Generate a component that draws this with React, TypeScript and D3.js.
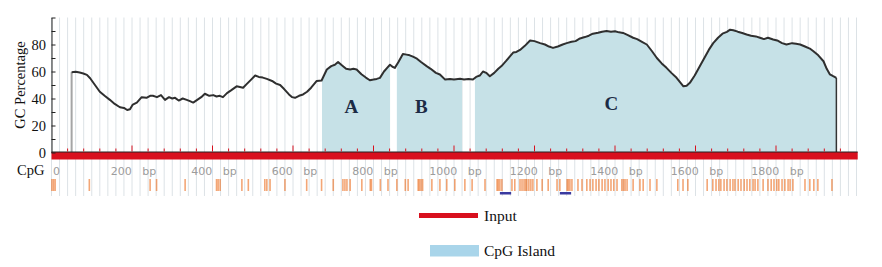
import React, { useEffect, useRef } from 'react';
import * as d3 from 'd3';

// GC percentage (100 bp window), position in bp
const gcPos = [50, 60, 70, 79, 88, 96, 108, 120, 132, 145, 157, 170, 180, 188, 195, 202, 212, 224, 236, 245, 252, 262, 272, 282, 292, 300, 307, 316, 326, 336, 344, 352, 362, 372, 381, 392, 402, 410, 418, 426, 436, 446, 460, 468, 476, 486, 496, 506, 515, 525, 535, 548, 558, 568, 578, 590, 598, 605, 615, 625, 635, 645, 659, 671, 684, 695, 704, 712, 722, 732, 742, 750, 758, 770, 781, 791, 800, 808, 816, 826, 835, 841, 847, 853, 862, 873, 882, 890, 898, 908, 918, 932, 942, 955, 965, 978, 990, 1000, 1015, 1025, 1036, 1047, 1055, 1064, 1072, 1080, 1089, 1100, 1110, 1118, 1130, 1140, 1147, 1155, 1164, 1176, 1189, 1200, 1214, 1226, 1236, 1246, 1258, 1270, 1280, 1292, 1302, 1313, 1325, 1335, 1345, 1358, 1368, 1379, 1390, 1400, 1410, 1420, 1432, 1445, 1455, 1467, 1479, 1492, 1504, 1516, 1528, 1540, 1553, 1562, 1570, 1578, 1586, 1598, 1611, 1622, 1633, 1644, 1656, 1667, 1678, 1686, 1694, 1705, 1716, 1727, 1738, 1750, 1760, 1770, 1780, 1793, 1803, 1815, 1826, 1840, 1850, 1860, 1872, 1884, 1893, 1905, 1918, 1926, 1934, 1942, 1950];
const gcVal = [59.5, 59.8, 59.2, 58.5, 57.5, 55, 50, 45, 42, 39, 36, 33.5, 33, 31.5, 32, 35.5, 37, 41, 40.5, 42, 42, 41, 42.5, 39, 41, 40, 40.5, 38.5, 40, 39, 38, 37, 39, 41, 43.5, 42, 42.5, 41.5, 42, 41, 44, 46, 49, 48.5, 48, 51, 54, 57, 56, 55.5, 54.5, 53, 51, 50, 47, 43, 41, 40.5, 42, 43, 45, 48, 53, 53.3, 61.5, 64, 65, 67, 64.5, 62, 61.5, 62, 61.5, 58, 55.5, 53.5, 54, 54.5, 55.3, 60, 63, 65, 63.5, 62.7, 67, 73, 72.5, 72, 71, 69.5, 67, 64, 62, 59, 57.8, 54, 54.5, 54, 54.6, 54, 54.5, 54, 56, 57, 60, 59, 56.5, 59, 62, 64, 68, 71.5, 74, 74.5, 76, 79, 83, 82.5, 81, 80, 78.5, 77.5, 78.5, 80, 81, 82, 82.5, 84.5, 85.5, 86.5, 88, 88.7, 89.5, 90, 89.5, 89.8, 89, 88.6, 87, 85, 84, 82, 80, 75, 70, 66, 62.7, 59, 55.3, 52, 49, 49.5, 51.6, 57, 64, 70, 76, 81, 85, 88, 89.4, 91, 90.6, 89.5, 88.5, 87.4, 86.5, 86, 85, 84, 85, 83.7, 83, 81, 80, 81, 80.5, 80, 78.5, 77, 75, 72, 67.6, 62, 57.8, 56.5, 55.3];

// CpG islands (bp)
const islandStart = [672, 858, 1052];
const islandEnd = [841, 1020, 1950];
const islandNames = ['A', 'B', 'C'];

// CpG sites (bp)
const cpgSites = [1, 5, 9, 94, 245, 261, 332, 410, 414, 419, 473, 489, 530, 535, 543, 580, 634, 671, 700, 724, 729, 734, 742, 771, 792, 795, 817, 836, 858, 879, 886, 911, 914, 918, 922, 945, 965, 982, 1002, 1027, 1045, 1077, 1107, 1110, 1114, 1119, 1144, 1151, 1164, 1169, 1174, 1178, 1181, 1186, 1191, 1196, 1206, 1219, 1234, 1256, 1263, 1281, 1284, 1288, 1293, 1308, 1318, 1330, 1338, 1345, 1353, 1360, 1368, 1375, 1383, 1390, 1397, 1405, 1417, 1421, 1425, 1430, 1445, 1462, 1470, 1487, 1504, 1556, 1569, 1581, 1629, 1643, 1651, 1658, 1663, 1671, 1678, 1686, 1693, 1698, 1706, 1713, 1721, 1728, 1735, 1743, 1748, 1755, 1768, 1780, 1788, 1795, 1802, 1807, 1815, 1822, 1830, 1835, 1842, 1872, 1884, 1894, 1904, 1939];

// primers (bp)
const primerStart = [1114, 1263];
const primerEnd = [1142, 1291];

const yTicks = [0, 10, 20, 30, 40, 50, 60, 70, 80, 90, 100];
const yLabels = [0, 20, 40, 60, 80];
const bpLabels = [200, 400, 600, 800, 1000, 1200, 1400, 1600, 1800];
const seqLength = 2003;

function CpgPlot({ width = 882, height = 267 }) {
    const ref = useRef(null);

    useEffect(() => {
        const svg = d3.select(ref.current);
        svg.selectAll('*').remove();

        const serif = '"Liberation Serif", "Times New Roman", serif';
        const x = d3.scaleLinear().domain([0, 2000]).range([51.5, 856.5]);
        const y = d3.scaleLinear().domain([0, 100]).range([152.5, 17.5]);
        const data = gcPos.map((p, i) => [p, gcVal[i]]);

        // light vertical grid every 20 bp
        svg.append('g').selectAll('line')
            .data(d3.range(0, 2001, 20))
            .join('line')
            .attr('x1', d => x(d)).attr('x2', d => x(d))
            .attr('y1', 17.5).attr('y2', 196)
            .attr('stroke', '#dce2e6').attr('stroke-width', 1);

        // islands: area under the curve clipped to island ranges
        const clip = svg.append('defs').append('clipPath').attr('id', 'islands');
        clip.selectAll('rect')
            .data(islandStart)
            .join('rect')
            .attr('x', d => x(d))
            .attr('width', (d, i) => x(islandEnd[i]) - x(d))
            .attr('y', 0).attr('height', y(0));

        const area = d3.area().x(d => x(d[0])).y0(y(0)).y1(d => y(d[1]));
        svg.append('path').datum(data)
            .attr('clip-path', 'url(#islands)')
            .attr('fill', '#c6e1e7')
            .attr('d', area);

        // start / end verticals
        svg.append('line')
            .attr('x1', x(gcPos[0])).attr('x2', x(gcPos[0]))
            .attr('y1', y(0)).attr('y2', y(gcVal[0]))
            .attr('stroke', '#a5a5a5').attr('stroke-width', 2);
        const last = gcPos.length - 1;
        svg.append('line')
            .attr('x1', x(gcPos[last])).attr('x2', x(gcPos[last]))
            .attr('y1', y(0)).attr('y2', y(gcVal[last]))
            .attr('stroke', '#333').attr('stroke-width', 1.5);

        // GC line
        const line = d3.line().x(d => x(d[0])).y(d => y(d[1]));
        svg.append('path').datum(data)
            .attr('fill', 'none')
            .attr('stroke', '#2f2f2f')
            .attr('stroke-width', 2)
            .attr('stroke-linejoin', 'round')
            .attr('d', line);

        // island letters
        const labelBp = [745, 919, 1391];
        const labelY = [113, 113, 110];
        svg.append('g').selectAll('text')
            .data(islandNames)
            .join('text')
            .attr('x', (d, i) => x(labelBp[i]))
            .attr('y', (d, i) => labelY[i])
            .attr('text-anchor', 'middle')
            .style('font-family', serif)
            .style('font-size', '19px')
            .style('font-weight', 'bold')
            .attr('fill', '#1c2b45')
            .text(d => d);

        // red input bar
        svg.append('rect')
            .attr('x', x(0)).attr('y', 152)
            .attr('width', x(seqLength) - x(0)).attr('height', 7.5)
            .attr('fill', '#d8101e');
        svg.append('line')
            .attr('x1', x(0)).attr('x2', x(seqLength))
            .attr('y1', 152).attr('y2', 152)
            .attr('stroke', '#222').attr('stroke-width', 1);

        // red ticks above the bar
        svg.append('g').selectAll('line')
            .data(d3.range(40, 1961, 40))
            .join('line')
            .attr('x1', d => x(d)).attr('x2', d => x(d))
            .attr('y1', 151.5)
            .attr('y2', d => (d % 200 === 0 ? 145.5 : 148.5))
            .attr('stroke', '#d8101e').attr('stroke-width', 1);

        // y axis
        const yAxis = d3.axisLeft(y).tickValues(yTicks).tickSize(-4).tickSizeOuter(0).tickPadding(5.5)
            .tickFormat(d => (yLabels.includes(d) ? d : ''));
        const ya = svg.append('g').attr('transform', 'translate(51.5,0)').call(yAxis);
        ya.select('.domain').attr('stroke', '#222');
        ya.selectAll('line').attr('stroke', '#222');
        ya.selectAll('text')
            .style('font-family', serif).style('font-size', '14.5px').attr('fill', '#111');

        svg.append('text')
            .attr('transform', 'translate(25,85) rotate(-90)')
            .attr('text-anchor', 'middle')
            .style('font-family', serif).style('font-size', '14.5px')
            .attr('fill', '#111')
            .text('GC Percentage');

        // bp labels
        svg.append('text')
            .attr('x', 17).attr('y', 175)
            .style('font-family', serif).style('font-size', '14.5px')
            .attr('fill', '#111')
            .text('CpG');
        svg.append('text')
            .attr('x', x(0) + 1.5).attr('y', 175)
            .style('font-family', '"DejaVu Sans", Verdana, sans-serif').style('font-size', '11px')
            .attr('fill', '#9c9c9c')
            .text('0');
        svg.append('g').selectAll('text')
            .data(bpLabels)
            .join('text')
            .attr('x', d => x(d) + 1.5).attr('y', 175)
            .attr('text-anchor', 'middle')
            .style('font-family', '"DejaVu Sans", Verdana, sans-serif').style('font-size', '11px')
            .attr('fill', '#9c9c9c')
            .text(d => `${d}\u00a0\u00a0\u00a0bp`);

        // CpG sites
        svg.append('g').selectAll('line')
            .data(cpgSites)
            .join('line')
            .attr('x1', d => x(d)).attr('x2', d => x(d))
            .attr('y1', 179).attr('y2', 191)
            .attr('stroke', '#ec7022').attr('stroke-opacity', 0.62).attr('stroke-width', 1.6);

        // primers
        svg.append('g').selectAll('rect')
            .data(primerStart)
            .join('rect')
            .attr('x', d => x(d))
            .attr('width', (d, i) => x(primerEnd[i]) - x(d))
            .attr('y', 192).attr('height', 2.5)
            .attr('fill', '#3a3aa0');

        // legend
        svg.append('line')
            .attr('x1', 419).attr('x2', 478).attr('y1', 215.5).attr('y2', 215.5)
            .attr('stroke', '#d8101e').attr('stroke-width', 5);
        svg.append('text')
            .attr('x', 484).attr('y', 220.5)
            .style('font-family', serif).style('font-size', '15.5px')
            .attr('fill', '#111')
            .text('Input');
        svg.append('rect')
            .attr('x', 430).attr('y', 245).attr('width', 49).attr('height', 11.5)
            .attr('fill', '#a9d5ea');
        svg.append('text')
            .attr('x', 484).attr('y', 256)
            .style('font-family', serif).style('font-size', '15.5px')
            .attr('fill', '#111')
            .text('CpG Island');
    }, []);

    return <svg ref={ref} width={width} height={height} style={{ position: 'absolute', left: 0, top: 0, background: '#fff' }}></svg>;
}

export default function App() {
    return <CpgPlot />;
}
